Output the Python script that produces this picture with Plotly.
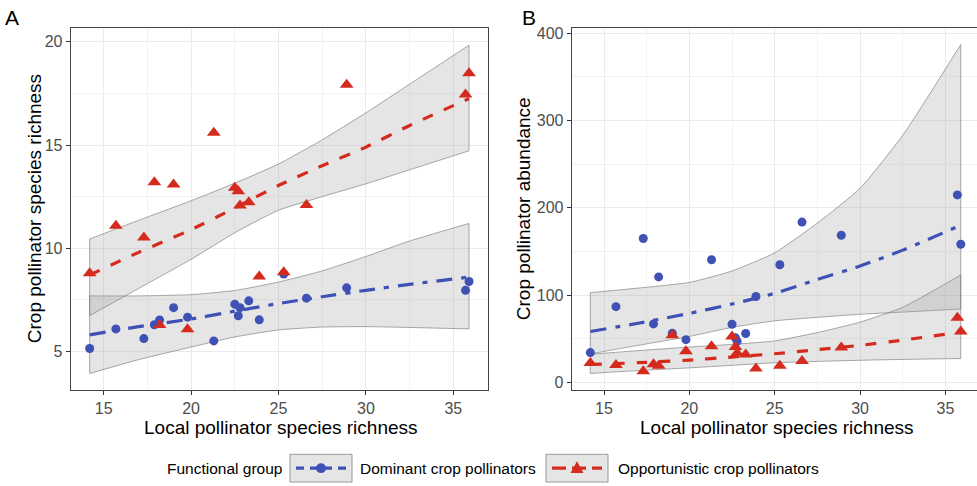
import plotly.graph_objects as go

# ---------------- data ----------------
site_x = [14.2, 15.7, 17.3, 17.9, 18.2, 19.0, 19.8, 21.3, 22.5, 22.7, 22.8, 23.3, 23.9, 25.3, 26.6, 28.9, 35.7, 35.9]

# Panel A: crop pollinator species richness
dom_rich = [5.14, 6.09, 5.62, 6.29, 6.52, 7.12, 6.66, 5.51, 7.29, 6.73, 7.12, 7.45, 6.53, 8.75, 7.58, 8.08, 7.96, 8.39]
opp_rich = [8.79, 11.09, 10.52, 13.2, 6.28, 13.09, 6.07, 15.6, 12.93, 12.76, 12.07, 12.23, 8.63, 8.84, 12.1, 17.92, 17.45, 18.48]

# Panel B: crop pollinator abundance
dom_abund = [34.1, 86.7, 164.8, 67.0, 120.8, 56.4, 48.9, 140.5, 66.6, 51.0, 47.0, 56.0, 98.4, 134.8, 183.6, 168.5, 214.8, 158.3]
opp_abund = [22.3, 20.0, 12.8, 20.8, 18.9, 54.1, 35.6, 41.3, 52.6, 40.5, 33.6, 31.8, 15.9, 18.9, 24.5, 39.8, 73.9, 58.3]

# model fits
fit_x = [14.2, 17, 20, 22.5, 25, 27.5, 30, 32.5, 35.9]
dom_rich_fit = [5.80, 6.20, 6.57, 6.95, 7.32, 7.65, 7.96, 8.25, 8.60]
dom_rich_lo = [3.93, 4.60, 5.21, 5.70, 6.04, 6.18, 6.20, 6.16, 6.09]
dom_rich_hi = [7.69, 7.69, 7.75, 7.95, 8.36, 8.90, 9.60, 10.35, 11.20]
opp_rich_fit = [8.70, 9.80, 10.90, 11.95, 13.04, 14.00, 14.90, 15.95, 17.25]
opp_rich_lo = [6.73, 8.05, 9.46, 10.75, 11.84, 12.50, 13.12, 13.80, 14.72]
opp_rich_hi = [10.45, 11.35, 12.30, 13.15, 14.08, 15.25, 16.56, 17.95, 19.84]

dom_ab_fit = [58.3, 67.7, 79.0, 89.7, 102.0, 118.0, 133.3, 151.5, 180.0]
dom_ab_lo = [32.6, 42.4, 52.6, 63.0, 70.5, 74.5, 78.0, 80.5, 84.0]
dom_ab_hi = [102.8, 108.0, 114.5, 127.6, 148.4, 182.5, 222.3, 283.0, 387.0]
opp_ab_fit = [20.5, 22.5, 25.5, 29.0, 32.8, 37.5, 42.4, 48.4, 57.5]
opp_ab_lo = [10.2, 13.5, 16.6, 19.5, 22.5, 24.0, 25.3, 26.3, 27.3]
opp_ab_hi = [32.2, 36.3, 40.5, 43.5, 47.5, 57.0, 69.0, 86.0, 123.0]

x_ticks = [15, 20, 25, 30, 35]
yA_ticks = [5, 10, 15, 20]
yB_ticks = [0, 100, 200, 300, 400]

BLUE = "#3F51B5"
RED = "#D52A1E"
RIBBON = "rgba(153,153,153,0.25)"
RIB_LINE = "rgba(120,120,120,0.9)"
BLUE_DASH = "16px,9px,5px,9px"
RED_DASH = "11px,12px"
FONT = "Liberation Sans, Arial, sans-serif"

W, H = 977, 486

fig = go.Figure()


def ribbon(xs, lo, hi, xa, ya):
    fig.add_trace(go.Scatter(
        x=xs, y=lo, mode="lines",
        line=dict(color=RIB_LINE, width=0.7, shape="spline", smoothing=0.5),
        hoverinfo="skip", showlegend=False, xaxis=xa, yaxis=ya))
    fig.add_trace(go.Scatter(
        x=xs, y=hi, mode="lines", fill="tonexty", fillcolor=RIBBON,
        line=dict(color=RIB_LINE, width=0.7, shape="spline", smoothing=0.5),
        hoverinfo="skip", showlegend=False, xaxis=xa, yaxis=ya))
    # vertical ends of the band
    fig.add_trace(go.Scatter(
        x=[xs[0], xs[0], None, xs[-1], xs[-1]], y=[lo[0], hi[0], None, lo[-1], hi[-1]],
        mode="lines", line=dict(color=RIB_LINE, width=0.7),
        hoverinfo="skip", showlegend=False, xaxis=xa, yaxis=ya))


def fitline(xs, ys, color, dash, xa, ya):
    fig.add_trace(go.Scatter(
        x=xs, y=ys, mode="lines",
        line=dict(color=color, width=3.2, dash=dash, shape="spline", smoothing=0.5),
        showlegend=False, xaxis=xa, yaxis=ya))


def pts(xs, ys, color, symbol, size, xa, ya):
    fig.add_trace(go.Scatter(
        x=xs, y=ys, mode="markers",
        marker=dict(color=color, symbol=symbol, size=size, line=dict(width=0)),
        showlegend=False, xaxis=xa, yaxis=ya))


# Panel A
ribbon(fit_x, dom_rich_lo, dom_rich_hi, "x", "y")
ribbon(fit_x, opp_rich_lo, opp_rich_hi, "x", "y")
pts(site_x, dom_rich, BLUE, "circle", 9, "x", "y")
pts(site_x, opp_rich, RED, "triangle-up", 12, "x", "y")
fitline(fit_x, dom_rich_fit, BLUE, BLUE_DASH, "x", "y")
fitline(fit_x, opp_rich_fit, RED, RED_DASH, "x", "y")

# Panel B
ribbon(fit_x, dom_ab_lo, dom_ab_hi, "x2", "y2")
ribbon(fit_x, opp_ab_lo, opp_ab_hi, "x2", "y2")
pts(site_x, dom_abund, BLUE, "circle", 9, "x2", "y2")
pts(site_x, opp_abund, RED, "triangle-up", 12, "x2", "y2")
fitline(fit_x, dom_ab_fit, BLUE, BLUE_DASH, "x2", "y2")
fitline(fit_x, opp_ab_fit, RED, RED_DASH, "x2", "y2")


def px_x(p):
    return p / W


def px_y(p):
    return 1 - p / H


top, bottom = 24.7, 390.0
axis_common = dict(
    showgrid=True, gridcolor="#EBEBEB", gridwidth=1,
    ticks="outside", ticklen=4, tickwidth=1, tickcolor="#333333",
    tickfont=dict(family=FONT, size=16, color="#4D4D4D"),
    showline=True, linecolor="#444444", linewidth=1,
    zeroline=False, tickmode="array",
)

fig.update_layout(
    width=W, height=H,
    margin=dict(l=0, r=0, t=0, b=0),
    paper_bgcolor="white", plot_bgcolor="white",
    showlegend=False,
    font=dict(family=FONT, color="black"),
    xaxis=dict(axis_common, domain=[px_x(70.7), px_x(488)], range=[13.115, 36.985],
               tickvals=x_ticks, mirror=True, anchor="y",
               minor=dict(tickvals=[12.5, 17.5, 22.5, 27.5, 32.5], showgrid=True,
                          gridcolor="#F3F3F3", gridwidth=0.7, ticks="")),
    yaxis=dict(axis_common, domain=[px_y(bottom), px_y(top)], range=[3.13, 20.65],
               tickvals=yA_ticks, mirror=True, anchor="x",
               minor=dict(tickvals=[7.5, 12.5, 17.5], showgrid=True,
                          gridcolor="#F3F3F3", gridwidth=0.7, ticks="")),
    xaxis2=dict(axis_common, domain=[px_x(571.7), 1.0], range=[13.108, 36.85],
                tickvals=x_ticks, mirror=True, anchor="y2",
                minor=dict(tickvals=[12.5, 17.5, 22.5, 27.5, 32.5], showgrid=True,
                           gridcolor="#F3F3F3", gridwidth=0.7, ticks="")),
    yaxis2=dict(axis_common, domain=[px_y(bottom), px_y(top)], range=[-8.75, 405.5],
                tickvals=yB_ticks, mirror=False, anchor="x2",
                minor=dict(tickvals=[50, 150, 250, 350], showgrid=True,
                           gridcolor="#F3F3F3", gridwidth=0.7, ticks="")),
)

ann = []


def text(s, x, y, size, xanchor="center", angle=0, color="black"):
    ann.append(dict(text=s, x=px_x(x), y=px_y(y), xref="paper", yref="paper",
                    showarrow=False, xanchor=xanchor, yanchor="middle",
                    textangle=angle, font=dict(family=FONT, size=size, color=color)))


text("A", 12, 14, 21)
text("B", 529, 14, 21)
text("Crop pollinator species richness", 34, (top + bottom) / 2, 19, angle=-90)
text("Crop pollinator abundance", 523, (top + bottom) / 2, 19, angle=-90)
text("Local pollinator species richness", 281, 428, 19)
text("Local pollinator species richness", 777, 428, 19)

# legend
leg_y = 469
text("Functional group", 165, leg_y, 15.5, xanchor="left")
text("Dominant crop pollinators", 358, leg_y, 15.5, xanchor="left")
text("Opportunistic crop pollinators", 616, leg_y, 15.5, xanchor="left")
fig.update_layout(annotations=ann)

shapes = []
for (bx0, bx1, col, dash, sym) in [(290, 352, BLUE, "8px,6px", "c"), (546, 608, RED, "14px,6px", "t")]:
    shapes.append(dict(type="rect", xref="paper", yref="paper",
                       x0=px_x(bx0), x1=px_x(bx1), y0=px_y(483), y1=px_y(455),
                       fillcolor="#E5E5E5", line=dict(color="#9A9A9A", width=1)))
    shapes.append(dict(type="line", xref="paper", yref="paper",
                       x0=px_x(bx0 + 6), x1=px_x(bx1 - 6), y0=px_y(leg_y), y1=px_y(leg_y),
                       line=dict(color=col, width=3.2, dash=dash)))
    cx = (bx0 + bx1) / 2
    if sym == "c":
        shapes.append(dict(type="circle", xref="paper", yref="paper",
                           x0=px_x(cx - 5), x1=px_x(cx + 5), y0=px_y(leg_y + 5), y1=px_y(leg_y - 5),
                           fillcolor=col, line=dict(width=0)))
    else:
        path = "M {:.5f},{:.5f} L {:.5f},{:.5f} L {:.5f},{:.5f} Z".format(
            px_x(cx - 6.5), px_y(leg_y + 5), px_x(cx + 6.5), px_y(leg_y + 5), px_x(cx), px_y(leg_y - 7))
        shapes.append(dict(type="path", xref="paper", yref="paper", path=path,
                           fillcolor=col, line=dict(width=0)))
fig.update_layout(shapes=shapes)

fig.write_html("out.html")
